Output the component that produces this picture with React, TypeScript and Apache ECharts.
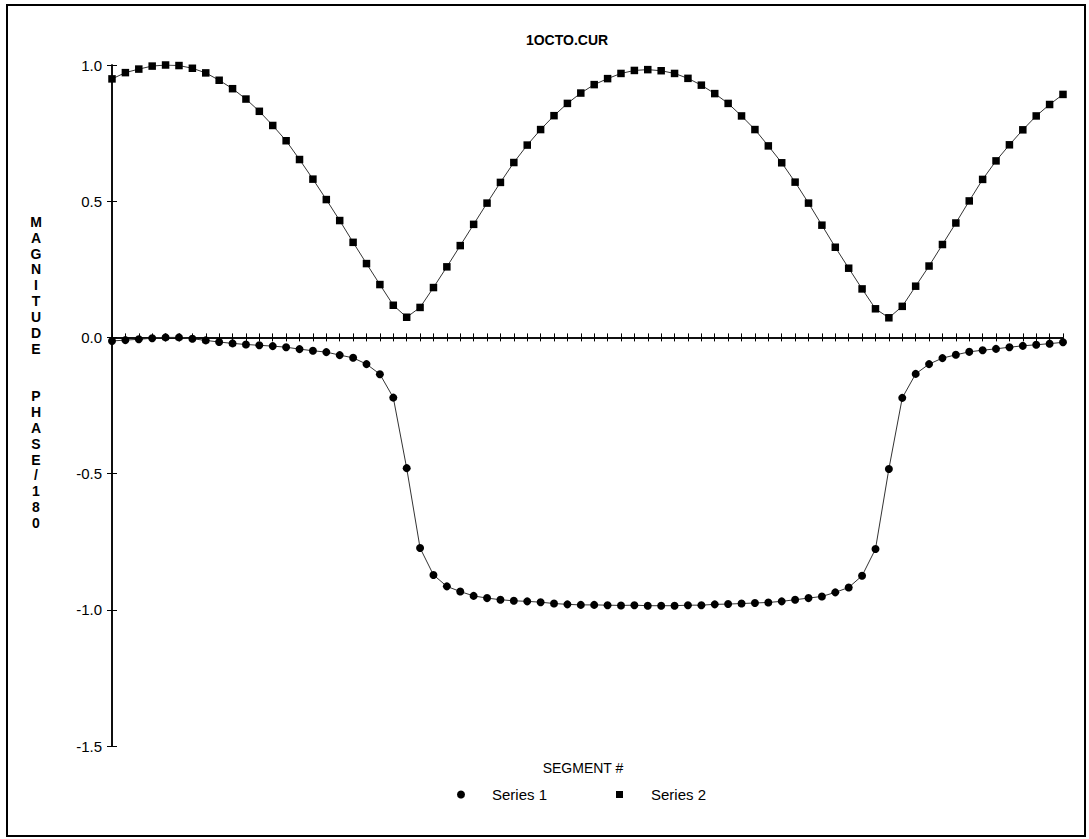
import React, { useEffect, useRef } from "react";
import * as echarts from "echarts";

const segments = [
  "1","2","3","4","5","6","7","8","9","10","11","12","13","14","15","16","17","18",
  "19","20","21","22","23","24","25","26","27","28","29","30","31","32","33","34","35","36",
  "37","38","39","40","41","42","43","44","45","46","47","48","49","50","51","52","53","54",
  "55","56","57","58","59","60","61","62","63","64","65","66","67","68","69","70","71","72",
];

// Series 1: phase / 180
const series1 = [
  -0.013, -0.010, -0.007, -0.003, 0.000, 0.000, -0.005, -0.011, -0.017, -0.022,
  -0.026, -0.029, -0.032, -0.036, -0.043, -0.049, -0.054, -0.065, -0.075, -0.098,
  -0.135, -0.221, -0.480, -0.773, -0.872, -0.914, -0.933, -0.949, -0.957, -0.963,
  -0.967, -0.969, -0.972, -0.977, -0.980, -0.982, -0.982, -0.983, -0.984, -0.983,
  -0.985, -0.985, -0.985, -0.983, -0.983, -0.980, -0.979, -0.977, -0.975, -0.973,
  -0.969, -0.963, -0.957, -0.951, -0.936, -0.918, -0.875, -0.777, -0.483, -0.222,
  -0.134, -0.098, -0.076, -0.064, -0.053, -0.047, -0.042, -0.036, -0.031, -0.027,
  -0.023, -0.018,
];

// Series 2: magnitude
const series2 = [
  0.949, 0.972, 0.985, 0.996, 1.000, 0.998, 0.988, 0.971, 0.944, 0.913,
  0.875, 0.830, 0.778, 0.722, 0.653, 0.581, 0.506, 0.429, 0.349, 0.271,
  0.194, 0.118, 0.074, 0.110, 0.183, 0.259, 0.337, 0.415, 0.493, 0.569,
  0.642, 0.706, 0.763, 0.814, 0.859, 0.897, 0.928, 0.950, 0.969, 0.980,
  0.983, 0.979, 0.969, 0.951, 0.926, 0.895, 0.859, 0.813, 0.763, 0.703,
  0.641, 0.570, 0.493, 0.412, 0.331, 0.254, 0.178, 0.105, 0.072, 0.114,
  0.188, 0.262, 0.341, 0.420, 0.501, 0.580, 0.648, 0.707, 0.762, 0.813,
  0.855, 0.892,
];

const seriesNames = ["Series 1", "Series 2"];
const titleText = "1OCTO.CUR";
const xAxisTitle = "SEGMENT #";
const yAxisTitleParts = ["MAGNITUDE", "PHASE/180"];
const yMin = -1.5;
const yMax = 1.0;
const yStep = 0.5;

const FONT = "'Liberation Sans', Arial, Helvetica, sans-serif";

export default function App() {
  const ref = useRef<HTMLDivElement>(null);

  useEffect(() => {
    if (!ref.current) return;
    const chart = echarts.init(ref.current, undefined, { renderer: "svg" });

    const xAxisBase = (inside: boolean) => ({
      type: "category",
      data: segments,
      boundaryGap: false,
      position: "bottom",
      axisLine: {
        show: true,
        onZero: true,
        onZeroAxisIndex: 0,
        lineStyle: { color: "#000", width: 1.5 },
      },
      axisTick: {
        show: true,
        interval: 0,
        inside,
        length: 4,
        lineStyle: { color: "#000", width: 1 },
      },
      axisLabel: { show: false },
      splitLine: { show: false },
    });

    const yAxisBase = (inside: boolean, labels: boolean) => ({
      type: "value",
      position: "left",
      min: yMin,
      max: yMax,
      interval: yStep,
      axisLine: { show: true, lineStyle: { color: "#000", width: 1.5 } },
      axisTick: {
        show: true,
        inside,
        length: 5,
        lineStyle: { color: "#000", width: 1 },
      },
      axisLabel: {
        show: labels,
        margin: 10,
        color: "#000",
        fontSize: 15,
        fontFamily: FONT,
        formatter: (v: number) => v.toFixed(1),
      },
      splitLine: { show: false },
    });

    const verticalLabel = [
      ...yAxisTitleParts[0].split(""),
      "",
      "",
      ...yAxisTitleParts[1].split(""),
    ].join("\n");

    chart.setOption({
      animation: false,
      backgroundColor: "#fff",
      textStyle: { fontFamily: FONT, color: "#000" },
      grid: {
        left: 112,
        right: 26,
        top: 65,
        bottom: 93,
        outerBoundsMode: "none",
        containLabel: false,
      },
      legend: [
        {
          data: [{ name: seriesNames[0], icon: "circle" }],
          left: 457,
          top: 787,
          padding: 0,
          itemWidth: 8,
          itemHeight: 8,
          selectedMode: false,
          textStyle: { fontSize: 15, color: "#000", fontFamily: FONT, padding: [0, 0, 0, 22] },
        },
        {
          data: [{ name: seriesNames[1], icon: "rect" }],
          left: 616,
          top: 787,
          padding: 0,
          itemWidth: 7,
          itemHeight: 7,
          selectedMode: false,
          textStyle: { fontSize: 15, color: "#000", fontFamily: FONT, padding: [0, 0, 0, 23] },
        },
      ],
      xAxis: [xAxisBase(false), xAxisBase(true)],
      yAxis: [yAxisBase(false, true), yAxisBase(true, false)],
      series: [
        {
          name: seriesNames[0],
          type: "line",
          data: series1,
          xAxisIndex: 0,
          yAxisIndex: 0,
          symbol: "circle",
          symbolSize: 8,
          showSymbol: true,
          showAllSymbol: true,
          itemStyle: { color: "#000" },
          lineStyle: { color: "#333", width: 1 },
          emphasis: { disabled: true },
          z: 3,
        },
        {
          name: seriesNames[1],
          type: "line",
          data: series2,
          xAxisIndex: 1,
          yAxisIndex: 1,
          symbol: "rect",
          symbolSize: 7.5,
          showSymbol: true,
          showAllSymbol: true,
          itemStyle: { color: "#000" },
          lineStyle: { color: "#333", width: 1 },
          emphasis: { disabled: true },
          z: 3,
        },
      ],
      graphic: [
        {
          type: "rect",
          silent: true,
          shape: { x: 7, y: 5, width: 1078, height: 831 },
          style: { fill: "none", stroke: "#000", lineWidth: 2 },
        },
        {
          type: "text",
          silent: true,
          x: 567,
          y: 40,
          style: {
            text: titleText,
            fill: "#000",
            font: `bold 14px ${FONT}`,
            textAlign: "center",
            textVerticalAlign: "middle",
          },
        },
        {
          type: "text",
          silent: true,
          x: 583,
          y: 768,
          style: {
            text: xAxisTitle,
            fill: "#000",
            font: `14px ${FONT}`,
            textAlign: "center",
            textVerticalAlign: "middle",
          },
        },
        {
          type: "text",
          silent: true,
          x: 36,
          y: 214,
          style: {
            text: verticalLabel,
            fill: "#000",
            font: `bold 14px ${FONT}`,
            textAlign: "center",
            textVerticalAlign: "top",
            lineHeight: 15.84,
          },
        },
      ],
    });

    return () => {
      chart.dispose();
    };
  }, []);

  return (
    <div
      ref={ref}
      style={{
        position: "fixed",
        left: 0,
        top: 0,
        width: 1089,
        height: 839,
        background: "#fff",
      }}
    />
  );
}
